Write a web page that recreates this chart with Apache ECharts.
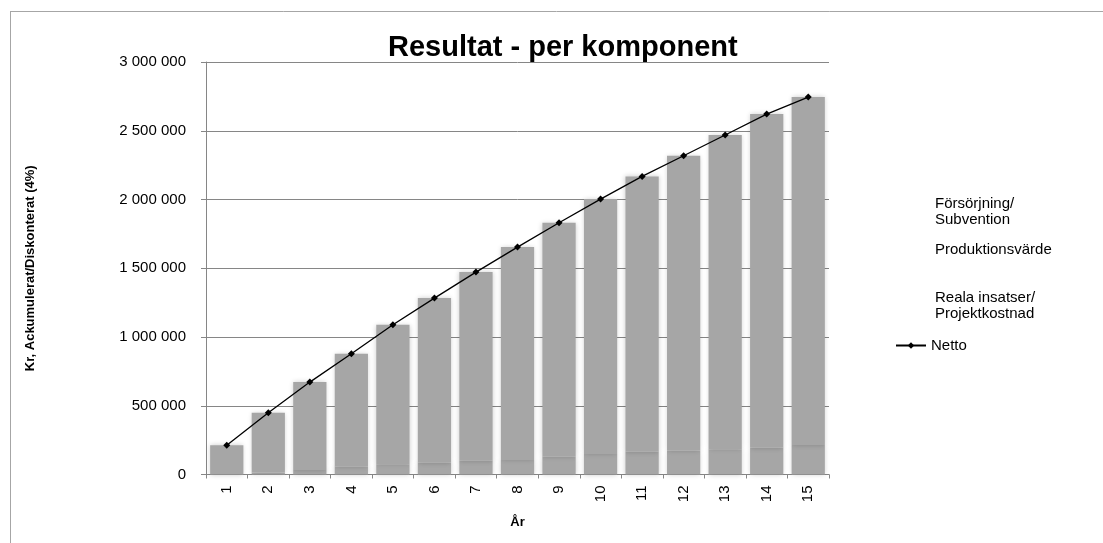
<!DOCTYPE html>
<html>
<head>
<meta charset="utf-8">
<script src="https://cdn.jsdelivr.net/npm/echarts@6/dist/echarts.min.js"></script>
<style>
html,body{margin:0;padding:0;background:#fff;}
#chart{width:1103px;height:543px;}
</style>
</head>
<body>
<div id="chart"></div>
<script>
const categories = ['1','2','3','4','5','6','7','8','9','10','11','12','13','14','15'];
const forsorjning = [0, 15000, 33000, 57000, 74000, 86000, 100000, 105000, 130000, 149000, 166000, 173000, 183000, 195000, 215000];
const produktion = [213000, 434000, 639000, 821000, 1015000, 1197000, 1372000, 1549000, 1701000, 1854000, 2002000, 2145000, 2286000, 2426000, 2530000];
const reala = [0, 0, 0, 0, 0, 0, 0, 0, 0, 0, 0, 0, 0, 0, 0];
const netto = [213000, 449000, 672000, 878000, 1089000, 1283000, 1472000, 1654000, 1831000, 2003000, 2168000, 2318000, 2469000, 2621000, 2745000];
const yTicks = [0, 500000, 1000000, 1500000, 2000000, 2500000, 3000000];

const FONT = "'Liberation Sans', Arial, sans-serif";
const fmt = v => String(v).replace(/\B(?=(\d{3})+(?!\d))/g, ' ');
const barStyle = {
  color: '#a6a6a6',
  shadowBlur: 5,
  shadowColor: 'rgba(0,0,0,0.2)',
  shadowOffsetX: 0,
  shadowOffsetY: 0
};
const hiddenLegend = (name, top) => ({
  left: 929, top: top, orient: 'vertical', padding: 0,
  itemWidth: 1, itemHeight: 1, itemGap: 0,
  selectedMode: false,
  textStyle: { fontSize: 15, color: '#000', fontFamily: FONT, lineHeight: 16 },
  data: [{ name: name, icon: 'rect', itemStyle: { opacity: 0, color: 'rgba(0,0,0,0)' } }]
});

const chart = echarts.init(document.getElementById('chart'), null, { renderer: 'canvas' });
chart.setOption({
  animation: false,
  backgroundColor: '#fff',
  title: {
    text: 'Resultat - per komponent',
    left: 388, top: 33, padding: 0,
    textStyle: { fontSize: 29, fontWeight: 'bold', color: '#000', fontFamily: FONT }
  },
  graphic: [
    { type: 'line', shape: { x1: 10, y1: 11.5, x2: 1103, y2: 11.5 }, style: { stroke: '#a6a6a6', lineWidth: 1 } },
    { type: 'line', shape: { x1: 10.5, y1: 11, x2: 10.5, y2: 543 }, style: { stroke: '#a6a6a6', lineWidth: 1 } }
  ],
  legend: [
    hiddenLegend('Försörjning/\nSubvention', 196),
    hiddenLegend('Produktionsvärde', 242),
    hiddenLegend('Reala insatser/\nProjektkostnad', 290),
    {
      left: 895, top: 338, padding: 0, itemWidth: 30, itemHeight: 8, selectedMode: false,
      textStyle: { fontSize: 15, color: '#000', fontFamily: FONT },
      data: ['Netto']
    }
  ],
  grid: { left: 206, top: 62, right: 274, bottom: 68.5, containLabel: false },
  xAxis: {
    type: 'category',
    data: categories,
    name: 'År',
    nameLocation: 'middle',
    nameGap: 41,
    nameTextStyle: { fontSize: 13, fontWeight: 'bold', color: '#000', fontFamily: FONT },
    axisLine: { lineStyle: { color: '#868686', width: 1 } },
    axisTick: { show: true, alignWithLabel: false, length: 4, lineStyle: { color: '#868686' } },
    axisLabel: { rotate: 90, margin: 11, fontSize: 15, color: '#000', fontFamily: FONT },
    splitLine: { show: false }
  },
  yAxis: {
    type: 'value',
    min: yTicks[0], max: yTicks[yTicks.length - 1], interval: 500000,
    name: 'Kr, Ackumulerat/Diskonterat (4%)',
    nameLocation: 'middle',
    nameRotate: 90,
    nameGap: 169,
    nameTextStyle: { fontSize: 13, fontWeight: 'bold', color: '#000', fontFamily: FONT },
    axisLine: { show: true, lineStyle: { color: '#868686', width: 1 } },
    axisTick: { show: true, inside: false, length: 5, lineStyle: { color: '#868686' } },
    axisLabel: { margin: 20, fontSize: 15, color: '#000', fontFamily: FONT, formatter: fmt },
    splitLine: { show: true, lineStyle: { color: '#868686', width: 1 } }
  },
  series: [
    { name: 'Försörjning/\nSubvention', type: 'bar', stack: 'k', data: forsorjning, barCategoryGap: '20%', itemStyle: barStyle },
    { name: 'Produktionsvärde', type: 'bar', stack: 'k', data: produktion, itemStyle: barStyle },
    { name: 'Reala insatser/\nProjektkostnad', type: 'bar', stack: 'k', data: reala, itemStyle: barStyle },
    {
      name: 'Netto', type: 'line', data: netto, z: 5,
      symbol: 'diamond', symbolSize: 7, showSymbol: true,
      lineStyle: { color: '#000', width: 1.3 },
      itemStyle: { color: '#000' }
    }
  ]
});
</script>
</body>
</html>
